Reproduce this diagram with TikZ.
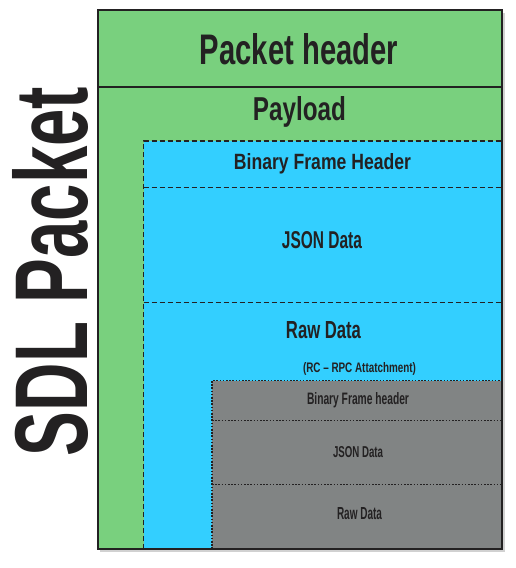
\documentclass[tikz,border=0pt]{standalone}
\usepackage{fontspec}
\usepackage{graphicx}
\setmainfont{Liberation Sans}
\definecolor{pgreen}{RGB}{121,208,126}
\definecolor{pblue}{RGB}{51,207,255}
\definecolor{pgray}{RGB}{129,132,132}
\definecolor{txt}{RGB}{35,33,34}
\newcommand\mkfit[3]{\resizebox{#1pt}{#2pt}{\bfseries #3}}
\begin{document}
\begin{tikzpicture}[x=1pt,y=-1pt,
  lbl/.style={inner sep=0pt, anchor=base, text=txt},
  bluedash/.style={draw=txt, line width=1.5pt, dash pattern=on 5pt off 3pt},
  graydot/.style={draw=txt, line width=1.6pt, dash pattern=on 1.6pt off 1.6pt},
  outerline/.style={draw=txt, line width=2pt}]
\useasboundingbox (0,0) rectangle (515,568);
% shadow
\fill[black!18] (100,12.5) rectangle (505,552);
% regions
\fill[pgreen] (97.5,10) rectangle (502,549);
\fill[pblue] (143.5,141) rectangle (502,549);
\fill[pgray] (212,380.5) rectangle (502,549);
% dividers
\draw[draw=txt, line width=1.4pt] (97.5,87) -- (502,87);
\draw[bluedash] (143.5,549) -- (143.5,141) -- (502,141);
\draw[bluedash] (143.5,187.5) -- (502,187.5);
\draw[bluedash] (143.5,302.5) -- (502,302.5);
\draw[graydot] (212,549) -- (212,380.5) -- (502,380.5);
\draw[graydot] (212,420.5) -- (502,420.5);
\draw[graydot] (212,484.5) -- (502,484.5);
% outer border
\draw[outerline] (97.5,10) rectangle (502,549);
% labels
\node[lbl] (hdr) at (299,64) {\mkfit{198}{31}{Packet header}};
\node[lbl] (pay) at (299.5,120) {\mkfit{93}{24}{Payload}};
\node[lbl] (bfh) at (322.5,169) {\mkfit{177}{16}{Binary Frame Header}};
\node[lbl] (json) at (322,248.5) {\mkfit{80}{17}{JSON Data}};
\node[lbl] (raw) at (323.5,338) {\mkfit{75}{17}{Raw Data}};
\node[lbl] (rc) at (359.5,372) {\mkfit{113}{10}{(RC – RPC Attatchment)}};
\node[lbl] (gbfh) at (358,404) {\mkfit{102}{12}{Binary Frame header}};
\node[lbl] (gjson) at (358,457) {\mkfit{50}{11}{JSON Data}};
\node[lbl] (graw) at (359.5,519) {\mkfit{45}{12}{Raw Data}};
\node[lbl, rotate=90] (sdl) at (87,271.5) {\mkfit{369}{75}{SDL Packet}};
\end{tikzpicture}
\end{document}
